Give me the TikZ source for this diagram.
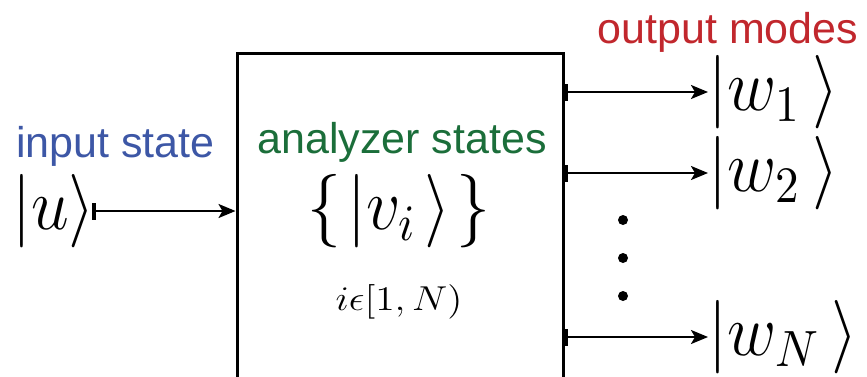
\documentclass[tikz,border=0pt]{standalone}
\usepackage{fontspec}
\newfontfamily\labfont{Liberation Sans}
\usetikzlibrary{arrows.meta}
\definecolor{inblue}{RGB}{61,87,166}
\definecolor{angreen}{RGB}{27,110,58}
\definecolor{outred}{RGB}{193,39,45}
\begin{document}
\begin{tikzpicture}[x=1pt,y=-1pt,
  lab/.style={font=\labfont\fontsize{43}{50}\selectfont, inner sep=0pt, anchor=base},
  ket/.style={font=\Large, xscale=4.7, yscale=5.1, inner sep=0pt},
  conn/.style={line width=2.4pt, {Bar[width=17pt,line width=3.5pt]}-{Stealth[length=17pt,width=14pt,inset=4pt]}},
  dotnode/.style={circle, fill=black, inner sep=0pt, minimum size=10pt}]
\useasboundingbox (0,0) rectangle (867,376);
\clip (0,0) rectangle (867,376);
% analyzer box
\node[draw, line width=3pt, minimum width=326pt, minimum height=370pt, anchor=north, inner sep=0pt] (box) at (400,52) {};
% labels
\node[lab, text=inblue] (inlab) at (115.5,157) {input state};
\node[lab, text=angreen] (anlab) at (402,153) {analyzer states};
\node[lab, text=outred] (outlab) at (728,43) {output modes};
% math
\node[ket, anchor=east] (u) at (96,211) {$\vert u\rangle$};
\node[ket] (v) at (399,211.5) {$\{\mkern1.5mu\vert v_i\mkern2mu\rangle\mkern1.5mu\}$};
\node[font=\Large, xscale=2.75, yscale=2.4, inner sep=0pt] (range) at (399,302) {$i\epsilon[1,N)$};
\node[ket, anchor=west] (w1) at (708,92) {$\vert w_1\mkern3mu\rangle$};
\node[ket, anchor=west] (w2) at (708,173) {$\vert w_2\mkern3mu\rangle$};
\node[ket, anchor=west] (wN) at (708,337) {$\vert w_N\mkern3mu\rangle$};
% dots
\node[dotnode] (d1) at (623,220) {};
\node[dotnode] (d2) at (623,258) {};
\node[dotnode] (d3) at (623,296) {};
% connectors
\draw[conn, shorten <=-4pt] (u.east) -- (box.west |- u.east);
\draw[conn] (box.east |- w1.west) -- (w1.west);
\draw[conn] (box.east |- w2.west) -- (w2.west);
\draw[conn] (box.east |- wN.west) -- (wN.west);
\end{tikzpicture}
\end{document}
